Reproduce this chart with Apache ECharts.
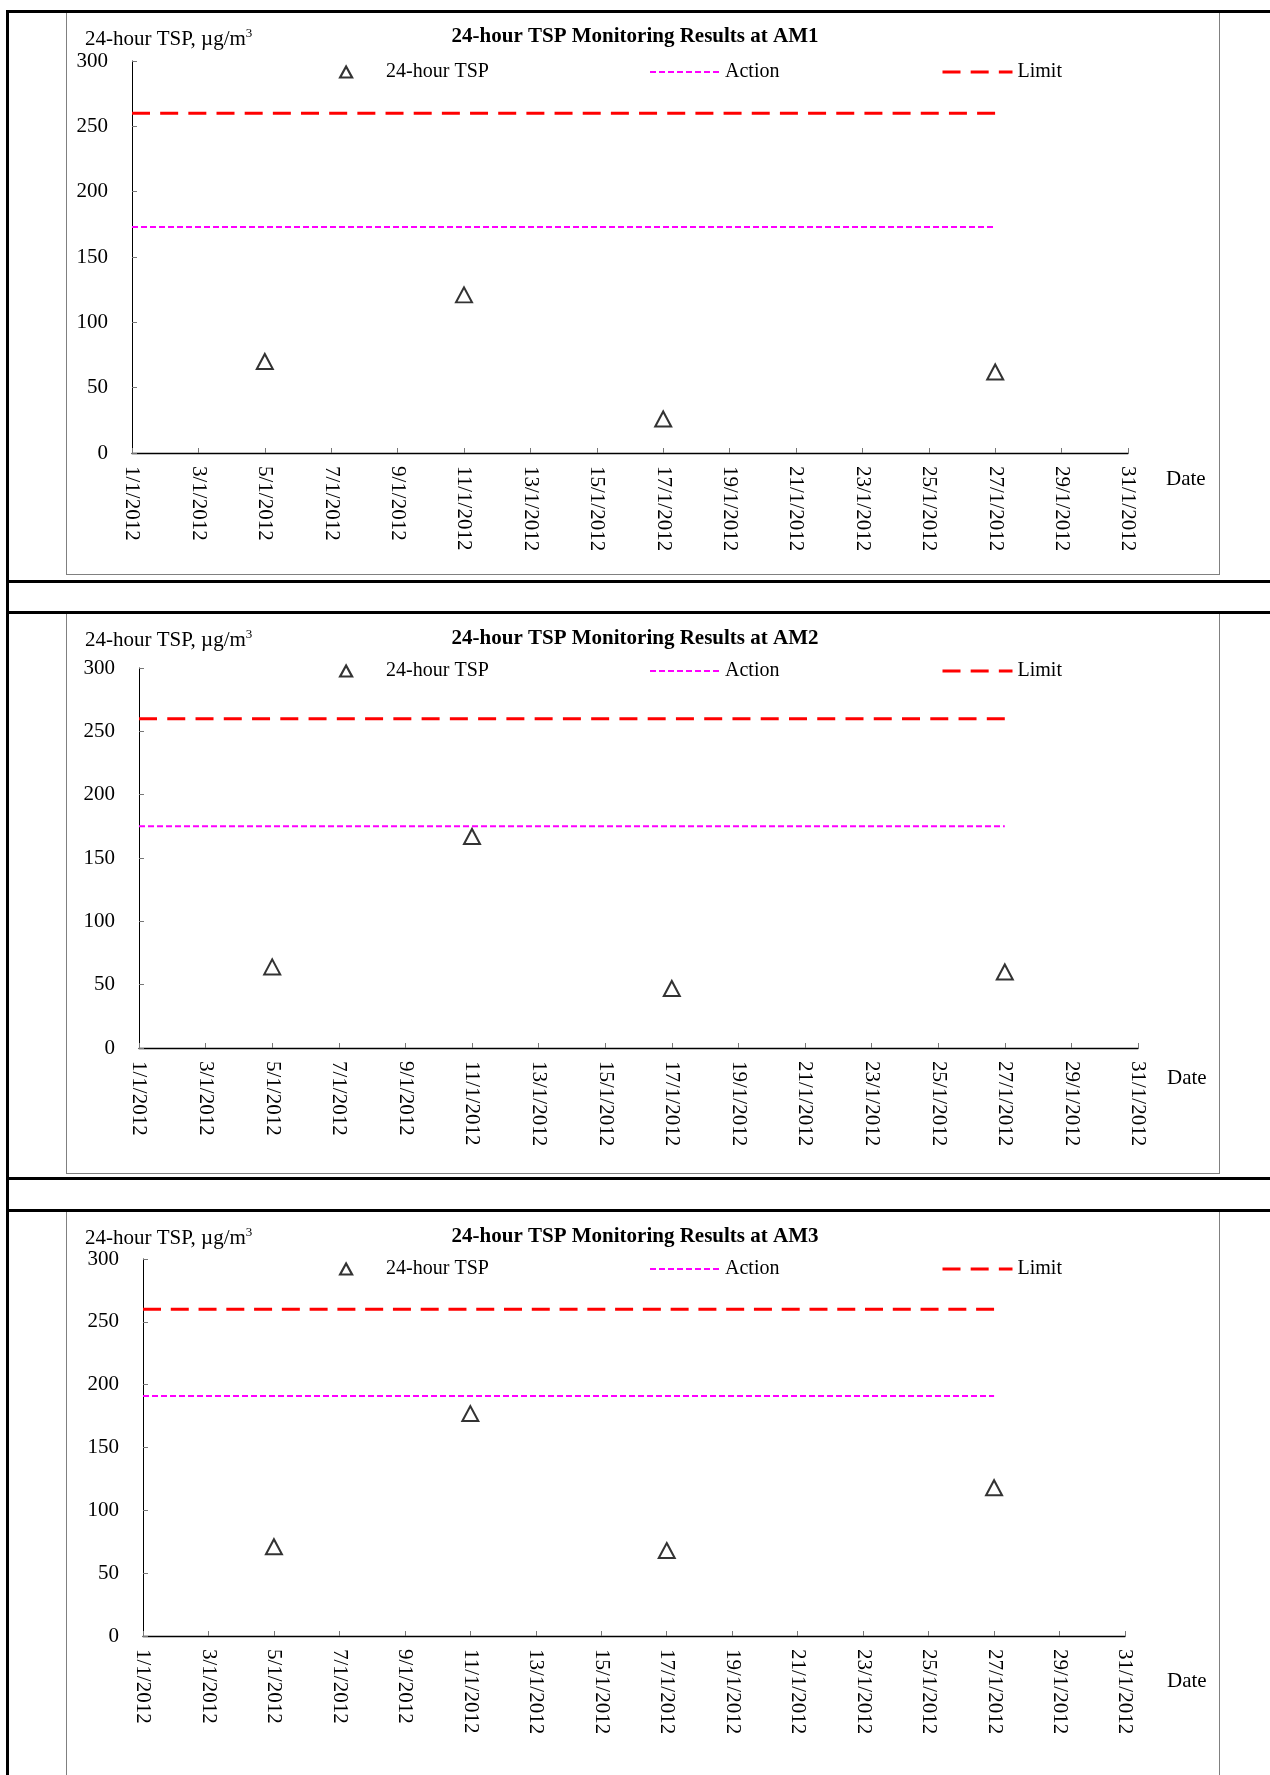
<!DOCTYPE html>
<html>
<head>
<meta charset="utf-8">
<script src="https://cdn.jsdelivr.net/npm/echarts@6/dist/echarts.min.js"></script>
<style>
  html, body { margin: 0; padding: 0; background: #fff; }
  #page { position: relative; width: 1270px; height: 1775px; overflow: hidden; background: #fff; }
  .hl { position: absolute; background: #000; }
  .box { position: absolute; border: 1px solid #808080; box-sizing: border-box; }
  #chart { position: absolute; left: 0; top: 0; width: 1270px; height: 1775px; z-index: 2; }
</style>
</head>
<body>
<div id="page">
  <!-- chart frames -->
  <div class="box" style="left:66px;top:12px;width:1154px;height:563px;"></div>
  <div class="box" style="left:66px;top:612px;width:1154px;height:562px;"></div>
  <div class="box" style="left:66px;top:1210px;width:1154px;height:600px;"></div>
  <!-- table rules -->
  <div class="hl" style="left:6px;top:10px;width:1264px;height:3px;"></div>
  <div class="hl" style="left:6px;top:580px;width:1264px;height:3px;"></div>
  <div class="hl" style="left:6px;top:611px;width:1264px;height:3px;"></div>
  <div class="hl" style="left:6px;top:1177px;width:1264px;height:3px;"></div>
  <div class="hl" style="left:6px;top:1209px;width:1264px;height:3px;"></div>
  <div class="hl" style="left:6px;top:10px;width:3px;height:1765px;"></div>
  <div id="chart"></div>
</div>
<script>
// ---------------- data ----------------
const categories = ['1/1/2012','2/1/2012','3/1/2012','4/1/2012','5/1/2012','6/1/2012','7/1/2012','8/1/2012',
  '9/1/2012','10/1/2012','11/1/2012','12/1/2012','13/1/2012','14/1/2012','15/1/2012','16/1/2012',
  '17/1/2012','18/1/2012','19/1/2012','20/1/2012','21/1/2012','22/1/2012','23/1/2012','24/1/2012',
  '25/1/2012','26/1/2012','27/1/2012','28/1/2012','29/1/2012','30/1/2012','31/1/2012'];
const stations = ['AM1', 'AM2', 'AM3'];
const sampleDates = ['5/1/2012', '11/1/2012', '17/1/2012', '27/1/2012'];
const am1TSP = [70, 121, 26, 62];
const am2TSP = [64, 167, 47, 60];
const am3TSP = [71, 177, 68, 118];
const actionLevels = [173, 175, 191];
const limitLevels = [260, 260, 260];
const levelLineDates = ['1/1/2012', '27/1/2012'];
const yTicks = [0, 50, 100, 150, 200, 250, 300];
const tspSeries = [am1TSP, am2TSP, am3TSP];

// ---------------- layout ----------------
const FONT = 'Liberation Serif';
const layouts = [
  { grid: { left: 132, top: 61, width: 996, height: 392 }, titleY: 37, yNameY: 39, legendY: 70, dateGap: 38, dateOff: 26, limitGap: 10.17 },
  { grid: { left: 139, top: 668, width: 999, height: 380 }, titleY: 639, yNameY: 640, legendY: 669, dateGap: 29, dateOff: 30, limitGap: 10.26 },
  { grid: { left: 143, top: 1259, width: 982, height: 377 }, titleY: 1237, yNameY: 1238, legendY: 1267, dateGap: 42, dateOff: 45, limitGap: 9.77 }
];

const option = {
  backgroundColor: 'transparent',
  animation: false,
  title: [], legend: [], grid: [], xAxis: [], yAxis: [], series: []
};

stations.forEach((st, k) => {
  const L = layouts[k];
  option.grid.push(Object.assign({ containLabel: false }, L.grid));
  option.title.push({
    text: '24-hour TSP Monitoring Results at ' + st,
    left: 'center', top: L.titleY - 12, padding: 0,
    textStyle: { fontFamily: FONT, fontSize: 21, fontWeight: 'bold', color: '#000', lineHeight: 24 }
  });
  option.title.push({
    text: '{a|24-hour TSP, µg/m}{s|3}',
    left: 85, top: L.yNameY - 12, padding: 0,
    textStyle: {
      fontWeight: 'normal', fontFamily: FONT, fontSize: 21, color: '#000',
      rich: {
        a: { fontFamily: FONT, fontSize: 21, fontWeight: 'normal', color: '#000', lineHeight: 24 },
        s: { fontFamily: FONT, fontSize: 13, fontWeight: 'normal', color: '#000', lineHeight: 13, verticalAlign: 'top' }
      }
    }
  });
  const legendText = { fontFamily: FONT, fontSize: 20, color: '#000' };
  option.legend.push({
    data: [{ name: '24-hour TSP', icon: 'triangle' }], left: 339, top: L.legendY - 8, padding: 0,
    itemWidth: 12, itemHeight: 11, selectedMode: false,
    textStyle: Object.assign({ padding: [0, 0, 0, 29] }, legendText),
    itemStyle: { borderWidth: 2.2, borderColor: '#000', color: 'rgba(0,0,0,0)' }
  });
  option.legend.push({
    data: ['Action'], left: 649, top: L.legendY - 8, padding: 0,
    itemWidth: 70, itemHeight: 12, selectedMode: false, textStyle: legendText,
    lineStyle: { width: 2 },
    itemStyle: { color: 'rgba(0,0,0,0)', borderWidth: 0, opacity: 0 }
  });
  option.legend.push({
    data: ['Limit'], left: 941, top: L.legendY - 8, padding: 0,
    itemWidth: 70, itemHeight: 12, selectedMode: false, textStyle: legendText,
    lineStyle: { width: 3 },
    itemStyle: { color: 'rgba(0,0,0,0)', borderWidth: 0, opacity: 0 }
  });
  option.xAxis.push({
    type: 'category', gridIndex: k, data: categories, boundaryGap: false,
    axisLine: { show: true, lineStyle: { color: '#000', width: 1.3 } },
    axisTick: { show: true, inside: true, length: 5, interval: 1, lineStyle: { color: '#777', width: 1 } },
    axisLabel: { interval: 1, rotate: -90, margin: 13, fontFamily: FONT, fontSize: 21, color: '#000' },
    splitLine: { show: false },
    name: 'Date', nameLocation: 'end', nameGap: L.dateGap,
    nameTextStyle: { fontFamily: FONT, fontSize: 21, color: '#000', align: 'left', verticalAlign: 'top', padding: [L.dateOff - 10.5, 0, 0, 0] }
  });
  option.yAxis.push({
    type: 'value', gridIndex: k, min: yTicks[0], max: yTicks[yTicks.length - 1], interval: yTicks[1] - yTicks[0],
    axisLine: { show: true, lineStyle: { color: '#000', width: 1 } },
    axisTick: { show: true, inside: true, length: 5, lineStyle: { color: '#777', width: 1 } },
    axisLabel: { margin: 24, fontFamily: FONT, fontSize: 21, color: '#000' },
    splitLine: { show: false }
  });
  option.series.push({
    name: '24-hour TSP', type: 'scatter', xAxisIndex: k, yAxisIndex: k,
    data: sampleDates.map((d, j) => [d, tspSeries[k][j]]),
    symbol: 'triangle', symbolSize: [16, 15],
    itemStyle: { color: 'rgba(0,0,0,0)', borderColor: '#000', borderWidth: 2 },
    z: 5
  });
  option.series.push({
    name: 'Action', type: 'line', xAxisIndex: k, yAxisIndex: k,
    data: levelLineDates.map(d => [d, actionLevels[k]]),
    symbol: 'none', itemStyle: { color: '#FF00FF' },
    lineStyle: { color: '#FF00FF', width: 2, type: [6, 3] }
  });
  option.series.push({
    name: 'Limit', type: 'line', xAxisIndex: k, yAxisIndex: k,
    data: levelLineDates.map(d => [d, limitLevels[k]]),
    symbol: 'none', itemStyle: { color: '#FF0000' },
    lineStyle: { color: '#FF0000', width: 3, type: [18, L.limitGap] }
  });
});

const chart = echarts.init(document.getElementById('chart'), null, { renderer: 'canvas' });
chart.setOption(option);
</script>
</body>
</html>
